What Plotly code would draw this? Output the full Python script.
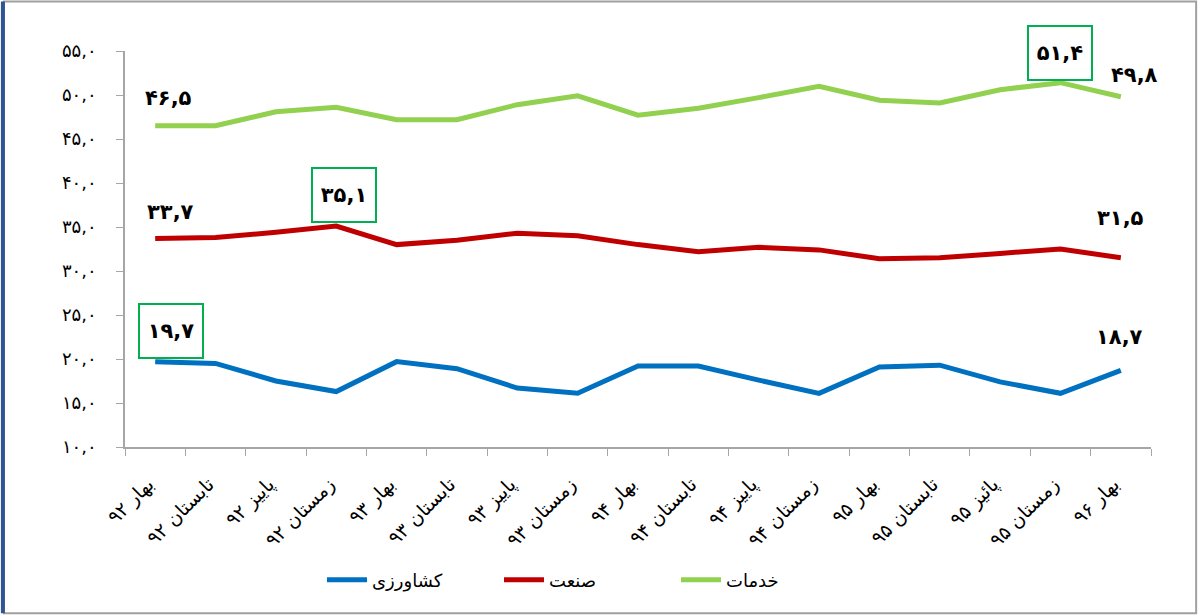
import plotly.graph_objects as go

categories = ["بهار ۹۲", "تابستان ۹۲", "پاییز ۹۲", "زمستان ۹۲",
              "بهار ۹۳", "تابستان ۹۳", "پاییز ۹۳", "زمستان ۹۳",
              "بهار ۹۴", "تابستان ۹۴", "پاییز ۹۴", "زمستان ۹۴",
              "بهار ۹۵", "تابستان ۹۵", "پائیز ۹۵", "زمستان ۹۵",
              "بهار ۹۶"]

agriculture = [19.7, 19.5, 17.5, 16.3, 19.7, 18.9, 16.7, 16.1, 19.2, 19.2,
               17.6, 16.1, 19.1, 19.3, 17.4, 16.1, 18.7]
industry = [33.7, 33.8, 34.4, 35.1, 33.0, 33.5, 34.3, 34.0, 33.0, 32.2,
            32.7, 32.4, 31.4, 31.5, 32.0, 32.5, 31.5]
services = [46.5, 46.5, 48.1, 48.6, 47.2, 47.2, 48.9, 49.9, 47.7, 48.5,
            49.7, 51.0, 49.4, 49.1, 50.6, 51.4, 49.8]

series_names = ["کشاورزی", "صنعت", "خدمات"]
series_colors = ["#0070C0", "#C00000", "#92D050"]

y_ticks = [10, 15, 20, 25, 30, 35, 40, 45, 50, 55]

TR = str.maketrans("0123456789.", "۰۱۲۳۴۵۶۷۸۹,")


def fa(v):
    return f"{v:.1f}".translate(TR)


y_ticktext = [fa(v) for v in y_ticks]

fig = go.Figure()
for name, vals, col in zip(series_names, [agriculture, industry, services], series_colors):
    fig.add_trace(go.Scatter(x=categories, y=vals, mode="lines", name=name,
                             line=dict(color=col, width=5)))

# annotations: (series, index, xshift, yshift, boxed)
notes = [
    (services, 0, 13, 28, False),
    (industry, 0, 15, 26, False),
    (industry, 3, 8, 31, True),
    (services, 15, 0, 30, True),
    (services, 16, 14, 22, False),
    (industry, 16, 0, 40, False),
    (agriculture, 0, 16, 31, True),
    (agriculture, 16, -1, 33, False),
]
for vals, i, xs, ys, boxed in notes:
    a = dict(x=categories[i], y=vals[i], text=fa(vals[i]), showarrow=False,
             xshift=xs, yshift=ys,
             font=dict(family="DejaVu Sans", size=21, color="#000000", weight="bold"))
    if boxed:
        a.update(bordercolor="#00B050", borderwidth=2, borderpad=8, width=46, height=36,
                 bgcolor="rgba(255,255,255,0)")
    fig.add_annotation(**a)

fig.update_xaxes(type="category", range=[-0.5, len(categories) - 0.5], automargin=False,
                 tickangle=-45, tickson="boundaries",
                 ticks="outside", ticklen=7, tickcolor="#A6A6A6",
                 showline=True, linecolor="#A6A6A6", linewidth=1.5,
                 showgrid=False, zeroline=False, ticklabelstandoff=17, ticklabelshift=-7,
                 tickfont=dict(family="DejaVu Sans", size=19, color="#000000"))
fig.update_yaxes(range=[10, 55], tickvals=y_ticks, ticktext=y_ticktext, automargin=False,
                 ticks="outside", ticklen=7, tickcolor="#A6A6A6",
                 showline=True, linecolor="#A6A6A6", linewidth=1.5,
                 showgrid=False, zeroline=False, ticklabelstandoff=16,
                 tickfont=dict(family="DejaVu Sans", size=18, color="#000000"))

fig.update_layout(
    width=1198, height=615,
    margin=dict(l=125, r=47, t=51, b=168, autoexpand=False),
    plot_bgcolor="white", paper_bgcolor="white",
    showlegend=True,
    legend=dict(orientation="h", x=0.192, xanchor="left", y=-0.336, yanchor="middle",
                entrywidth=122, entrywidthmode="pixels", itemwidth=40,
                font=dict(family="DejaVu Sans", size=18, color="#000000")),
    shapes=[
        dict(type="rect", xref="paper", yref="paper", x0=-0.118, x1=1.044, y0=-0.42, y1=1.125,
             line=dict(color="#A0A0A0", width=2)),
        dict(type="line", xref="paper", yref="paper", x0=-0.119, x1=-0.119, y0=-0.42, y1=1.125,
             line=dict(color="#2F5597", width=4)),
    ],
)

fig.write_html("out.html", config={"displayModeBar": False},
               post_script="document.body.style.margin='0px';document.body.style.overflow='hidden';")
